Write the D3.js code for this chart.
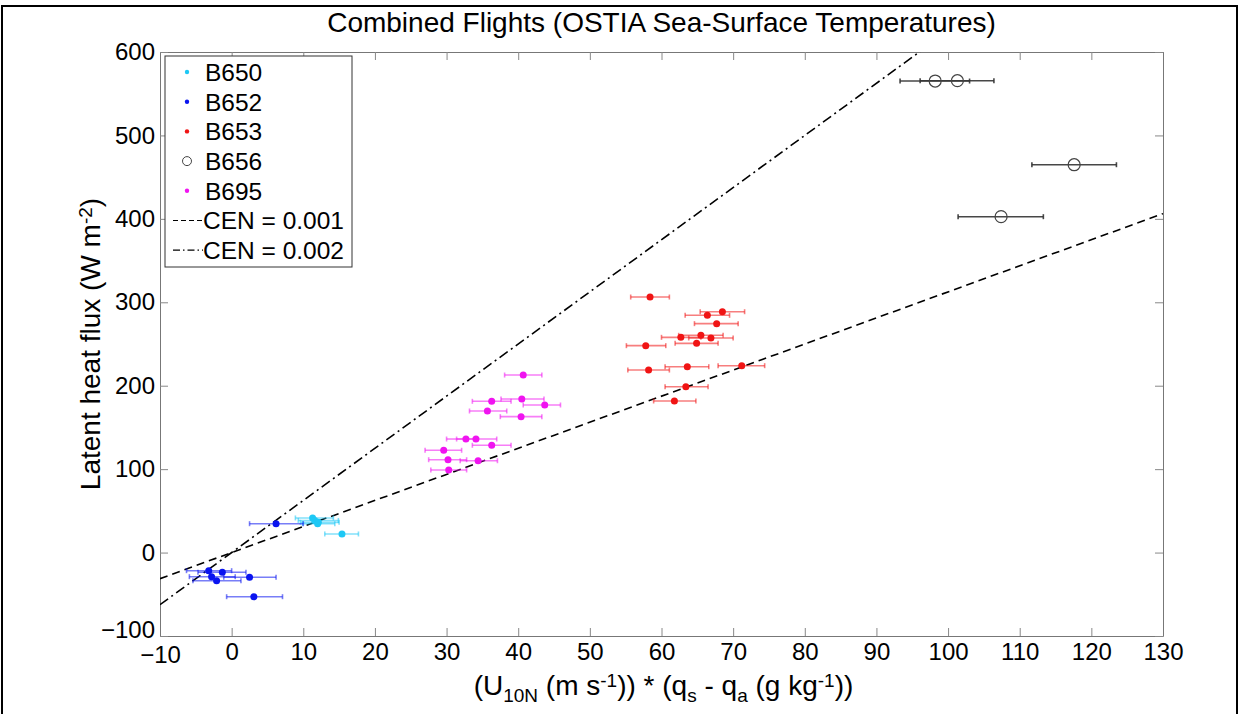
<!DOCTYPE html>
<html>
<head>
<meta charset="utf-8">
<script src="https://cdn.jsdelivr.net/npm/d3@7"></script>
<style>
  body { margin: 0; background: #fff; }
  svg { display: block; font-family: Arial, "Liberation Sans", sans-serif; }
</style>
</head>
<body>
<script>
// flights: [x, y, xLow, xHigh]
const b650 = [
  [11.3, 41.5, 8.9, 14.2],
  [11.6, 38.5, 9.3, 14.9],
  [12.1, 36.2, 9.6, 15.0],
  [12.0, 34.6, 9.9, 14.4],
  [15.4, 22.3, 13.0, 17.7],
];
const b652 = [
  [6.2, 34.6, 2.5, 10.0],
  [-3.2, -21.7, -6.3, 0.0],
  [-1.3, -23.6, -4.7, 2.0],
  [-2.8, -28.9, -5.9, 0.5],
  [2.5, -29.6, -1.1, 6.2],
  [-2.1, -33.7, -5.4, 1.3],
  [3.1, -52.9, -0.7, 7.1],
];
const b653 = [
  [58.4, 306.3, 55.7, 61.1],
  [68.5, 288.7, 65.4, 71.6],
  [66.4, 284.4, 63.3, 69.5],
  [67.7, 274.4, 64.6, 70.7],
  [65.5, 260.4, 62.4, 68.6],
  [62.7, 258.0, 60.0, 65.5],
  [66.9, 257.2, 63.8, 70.0],
  [64.9, 250.8, 61.9, 67.9],
  [57.8, 248.0, 55.1, 60.6],
  [63.6, 222.8, 60.5, 66.6],
  [71.2, 224.0, 67.9, 74.4],
  [58.2, 218.8, 55.3, 61.1],
  [63.4, 198.8, 60.5, 66.5],
  [61.8, 181.7, 58.9, 64.8],
];
const b656 = [
  [98.2, 565.2, 93.3, 103.0],
  [101.3, 565.6, 96.1, 106.4],
  [117.6, 464.9, 111.7, 123.5],
  [107.4, 402.6, 101.4, 113.3],
];
const b695 = [
  [40.7, 212.8, 38.1, 43.3],
  [40.5, 184.1, 37.6, 43.6],
  [36.3, 181.3, 33.6, 39.0],
  [43.7, 176.9, 40.7, 45.9],
  [35.7, 169.7, 33.2, 38.4],
  [40.4, 162.9, 37.5, 43.3],
  [32.7, 136.1, 30.0, 34.2],
  [34.1, 136.1, 31.4, 37.0],
  [36.3, 128.6, 33.6, 39.0],
  [29.6, 122.6, 27.0, 32.1],
  [30.2, 111.3, 27.5, 32.8],
  [34.4, 110.1, 31.9, 37.1],
  [30.3, 99.0, 27.8, 32.8],
];
const flights = [
  { name: 'B650', color: '#1ec8f5', pts: b650, open: false },
  { name: 'B652', color: '#0a14f0', pts: b652, open: false },
  { name: 'B653', color: '#f01414', pts: b653, open: false },
  { name: 'B656', color: '#333', pts: b656, open: true },
  { name: 'B695', color: '#f014f0', pts: b695, open: false },
];
// bulk formula slope: rho * Lv * CE (q in g/kg)
const cenValues = [0.001, 0.002];
const cenDash = ['8,5', '10,4,2,4'];
const xTicks = d3.range(-10, 131, 10);
const yTicks = d3.range(-100, 601, 100);

const width = 1240, height = 714;
const margin = { top: 52, right: 77, bottom: 78, left: 160 };
const iw = width - margin.left - margin.right;
const ih = height - margin.top - margin.bottom;

const svg = d3.select('body').append('svg')
  .attr('width', width).attr('height', height);

// figure frame
svg.append('rect')
  .attr('x', 2).attr('y', 6).attr('width', 1235).attr('height', 720)
  .attr('fill', 'none').attr('stroke', '#000').attr('stroke-width', 2);

const x = d3.scaleLinear().domain([-10, 130]).range([0, iw]);
const y = d3.scaleLinear().domain([-100, 600]).range([ih, 0]);

const g = svg.append('g').attr('transform', `translate(${margin.left},${margin.top})`);

svg.append('defs').append('clipPath').attr('id', 'clip')
  .append('rect').attr('width', iw).attr('height', ih);

// axes with inward ticks
const fmt = d3.format('d');
const xAxisG = g.append('g').attr('transform', `translate(0,${ih})`)
  .call(d3.axisBottom(x).tickValues(xTicks).tickFormat(fmt).tickSizeInner(-8).tickSizeOuter(0).tickPadding(7));
g.append('g').call(d3.axisTop(x).tickValues(xTicks).tickFormat('').tickSizeInner(-8).tickSizeOuter(0));
const yAxisG = g.append('g')
  .call(d3.axisLeft(y).tickValues(yTicks).tickFormat(fmt).tickSizeInner(-8).tickSizeOuter(0).tickPadding(5));
g.append('g').attr('transform', `translate(${iw},0)`)
  .call(d3.axisRight(y).tickValues(yTicks).tickFormat('').tickSizeInner(-8).tickSizeOuter(0));
g.selectAll('.domain').attr('stroke', '#777');
g.selectAll('.tick line').attr('stroke', '#888');
g.selectAll('.tick text').attr('font-size', 24).attr('fill', '#000')
  .attr('font-family', 'Arial, "Liberation Sans", sans-serif');
// the corner labels crowd each other, nudge them apart
yAxisG.selectAll('.tick').filter((d) => d === -100).select('text').attr('y', -6);
xAxisG.selectAll('.tick').filter((d) => d === -10).select('text').attr('y', 10);

const plot = g.append('g').attr('clip-path', 'url(#clip)');

// CEN lines
cenValues.forEach((ce, i) => {
  const k = 1.25 * 2.5e6 * ce * 1e-3;
  plot.append('line')
    .attr('x1', x(-10)).attr('y1', y(-10 * k))
    .attr('x2', x(130)).attr('y2', y(130 * k))
    .attr('stroke', '#000').attr('stroke-width', 1.6)
    .attr('stroke-dasharray', cenDash[i]);
});

// error bars and points
flights.forEach((f) => {
  const eg = plot.append('g').attr('stroke', f.color)
    .attr('stroke-opacity', f.open ? 0.9 : 0.55).attr('stroke-width', 1.6);
  eg.selectAll('line.bar').data(f.pts).join('line').attr('class', 'bar')
    .attr('x1', (d) => x(d[2])).attr('x2', (d) => x(d[3]))
    .attr('y1', (d) => y(d[1])).attr('y2', (d) => y(d[1]));
  eg.selectAll('line.capl').data(f.pts).join('line').attr('class', 'capl')
    .attr('x1', (d) => x(d[2])).attr('x2', (d) => x(d[2]))
    .attr('y1', (d) => y(d[1]) - 2.5).attr('y2', (d) => y(d[1]) + 2.5);
  eg.selectAll('line.capr').data(f.pts).join('line').attr('class', 'capr')
    .attr('x1', (d) => x(d[3])).attr('x2', (d) => x(d[3]))
    .attr('y1', (d) => y(d[1]) - 2.5).attr('y2', (d) => y(d[1]) + 2.5);
  plot.append('g').selectAll('circle').data(f.pts).join('circle')
    .attr('cx', (d) => x(d[0])).attr('cy', (d) => y(d[1]))
    .attr('r', f.open ? 6 : 3.5)
    .attr('fill', f.open ? 'none' : f.color)
    .attr('stroke', f.open ? '#444' : 'none')
    .attr('stroke-width', 1.2);
});

// legend
const lg = g.append('g').attr('transform', 'translate(5,4)');
lg.append('rect').attr('width', 187).attr('height', 211)
  .attr('fill', '#fff').attr('stroke', '#333').attr('stroke-width', 1);
const rowY = (i) => 16 + i * 29.7;
flights.forEach((f, i) => {
  lg.append('circle').attr('cx', 22).attr('cy', rowY(i))
    .attr('r', f.open ? 4.5 : 2.2)
    .attr('fill', f.open ? 'none' : f.color)
    .attr('stroke', f.open ? '#444' : 'none');
  lg.append('text').attr('x', 40).attr('y', rowY(i)).attr('dy', '0.36em')
    .attr('font-size', 24.5).text(f.name);
});
cenValues.forEach((ce, i) => {
  const yy = rowY(5 + i);
  lg.append('line').attr('x1', 8).attr('x2', 38).attr('y1', yy).attr('y2', yy)
    .attr('stroke', '#000').attr('stroke-width', 1.2)
    .attr('stroke-dasharray', i === 0 ? '5,3' : '7,3,1.5,3');
  lg.append('text').attr('x', 38).attr('y', yy).attr('dy', '0.36em')
    .attr('font-size', 24.5).text(`CEN = ${ce}`);
});

// title and labels
svg.append('text').attr('x', margin.left + iw / 2).attr('y', 32)
  .attr('text-anchor', 'middle').attr('font-size', 28)
  .text('Combined Flights (OSTIA Sea-Surface Temperatures)');

const yl = svg.append('text')
  .attr('transform', `translate(100,${margin.top + ih / 2}) rotate(-90)`)
  .attr('text-anchor', 'middle').attr('font-size', 28);
yl.append('tspan').text('Latent heat flux (W m');
yl.append('tspan').attr('baseline-shift', '40%').attr('font-size', 19).text('-2');
yl.append('tspan').text(')');

const xl = svg.append('text').attr('x', margin.left + iw / 2 + 2).attr('y', 695)
  .attr('text-anchor', 'middle').attr('font-size', 28);
xl.append('tspan').text('(U');
xl.append('tspan').attr('baseline-shift', '-35%').attr('font-size', 19).text('10N');
xl.append('tspan').text(' (m s');
xl.append('tspan').attr('baseline-shift', '40%').attr('font-size', 19).text('-1');
xl.append('tspan').text(')) * (q');
xl.append('tspan').attr('baseline-shift', '-35%').attr('font-size', 19).text('s');
xl.append('tspan').text(' - q');
xl.append('tspan').attr('baseline-shift', '-35%').attr('font-size', 19).text('a');
xl.append('tspan').text(' (g kg');
xl.append('tspan').attr('baseline-shift', '40%').attr('font-size', 19).text('-1');
xl.append('tspan').text('))');
</script>
</body>
</html>
